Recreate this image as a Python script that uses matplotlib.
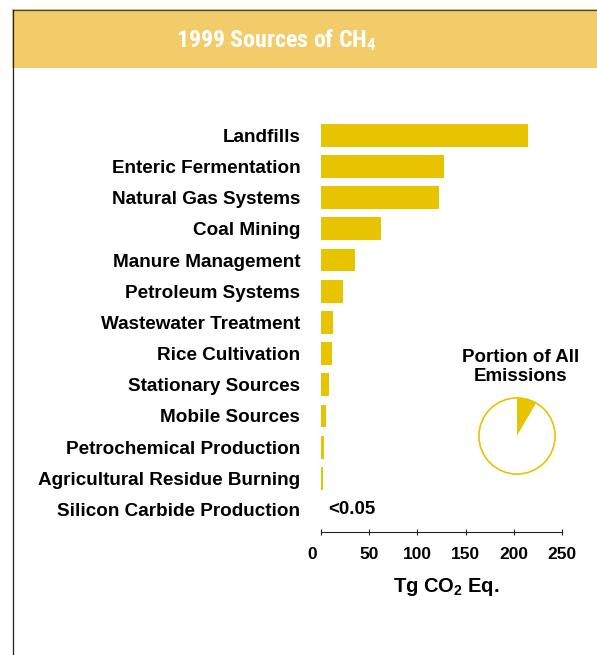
import matplotlib
matplotlib.use("Agg")
import matplotlib.pyplot as plt
from matplotlib import font_manager
from matplotlib.patches import Rectangle, Circle
from matplotlib.lines import Line2D
from matplotlib.transforms import ScaledTranslation

# data (Tg CO2 Eq.)
categories = ["Landfills", "Enteric Fermentation", "Natural Gas Systems",
              "Coal Mining", "Manure Management", "Petroleum Systems",
              "Wastewater Treatment", "Rice Cultivation", "Stationary Sources",
              "Mobile Sources", "Petrochemical Production",
              "Agricultural Residue Burning", "Silicon Carbide Production"]
values = [214.6, 127.6, 122.3, 62.2, 35.3, 22.8, 12.4, 11.4, 8.3, 5.2, 3.0, 1.6, 0.0]
small_label = "<0.05"
xticks = [0, 50, 100, 150, 200, 250]
ch4_share = 8.4  # % of all emissions

bar_color = "#E8C300"
banner_color = "#F2CC68"

plt.rcParams["font.family"] = ["Liberation Sans", "DejaVu Sans"]
plt.rcParams["mathtext.default"] = "regular"

names = {f.name for f in font_manager.fontManager.ttflist}
title_font = "Liberation Sans"
for cand in ["Roboto Condensed", "Liberation Sans Narrow", "Open Sans Condensed",
             "DejaVu Sans Condensed"]:
    if cand in names:
        title_font = cand
        break

W, H = 597, 655
fig = plt.figure(figsize=(W / 100, H / 100), dpi=100)

# banner and frame
fig.patches.append(Rectangle((12 / W, 1 - 68 / H), 1 - 12 / W, 58.5 / H,
                             transform=fig.transFigure, facecolor=banner_color,
                             edgecolor="none"))
fig.lines.append(Line2D([12.5 / W, 1], [1 - 9.5 / H] * 2, transform=fig.transFigure,
                        color="#444444", lw=0.9))
fig.lines.append(Line2D([12.5 / W] * 2, [0, 1 - 9.5 / H], transform=fig.transFigure,
                        color="#222222", lw=0.9))

title_size = 17.2 if title_font != "Liberation Sans" else 14.5
fig.text(276 / W, 1 - 47 / H, "1999 Sources of CH$_4$", ha="center", va="baseline",
         color="white", fontweight="bold", fontsize=title_size, family=title_font)

# bar chart
ax = fig.add_axes([321 / W, 1 - 532 / H, 241 / W, 412 / H])
ypos = list(range(len(categories)))
ax.barh(ypos, values, height=0.73, color=bar_color)
ax.set_xlim(0, 250)
ax.set_ylim(12.72, -0.49)
ax.set_yticks(ypos, categories, fontsize=13.6, fontweight="bold")
ax.tick_params(axis="y", length=0, pad=15)
ax.set_xticks(xticks)
ax.tick_params(axis="x", direction="inout", length=4, width=0.8, pad=8.5,
               labelsize=12.5, color="#222222")
xlabels = ax.get_xticklabels()
for lbl in xlabels:
    lbl.set_fontweight("bold")
# the "0" sits a little left of its tick in the original
xlabels[0].set_transform(xlabels[0].get_transform() +
                         ScaledTranslation(-9 / 100, 0, fig.dpi_scale_trans))
for s in ["left", "top", "right"]:
    ax.spines[s].set_visible(False)
ax.spines["bottom"].set_color("#222222")
ax.spines["bottom"].set_linewidth(0.8)

ax.text(values[-1] + 7.3, ypos[-1], small_label, ha="left", va="center",
        fontsize=13.5, fontweight="bold")

ax.set_xlabel("Tg CO$_2$ Eq.", fontsize=14.5, fontweight="bold")
ax.xaxis.set_label_coords((446 - 321) / 241, -(576 - 532) / 412)

# pie inset
fig.text(521 / W, 1 - 367 / H, "Portion of All\nEmissions", ha="center", va="center",
         multialignment="center", linespacing=1.18, fontsize=13.5, fontweight="bold")

pax = fig.add_axes([(517 - 40) / W, 1 - (436 + 40) / H, 80 / W, 80 / H])
pax.pie([ch4_share, 100 - ch4_share], startangle=90, counterclock=False,
        colors=[bar_color, "white"], wedgeprops={"linewidth": 0})
pax.add_patch(Circle((0, 0), 1, facecolor="none", edgecolor=bar_color, lw=1.2))
pax.set_xlim(-1.05, 1.05)
pax.set_ylim(-1.05, 1.05)
pax.set_aspect("equal")
pax.axis("off")

fig.savefig("out.png", dpi=100)
